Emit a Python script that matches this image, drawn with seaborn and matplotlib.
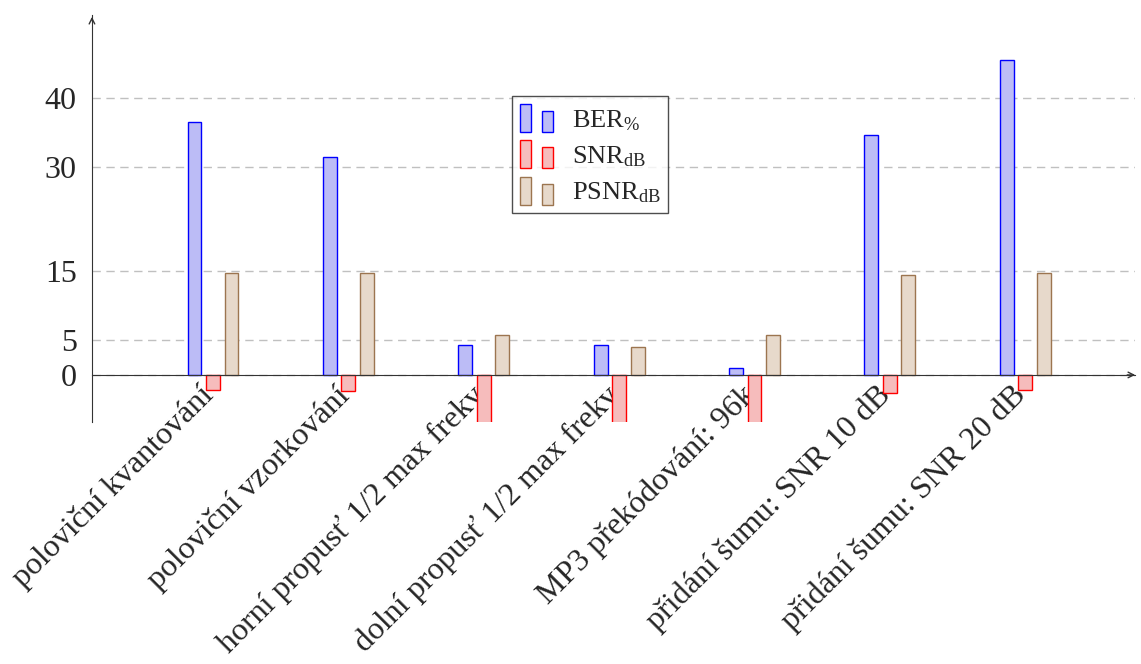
import matplotlib
matplotlib.use("Agg")
import matplotlib.pyplot as plt
import matplotlib.transforms as mtrans
import pandas as pd
import seaborn as sns
from matplotlib.legend_handler import HandlerBase
from matplotlib.patches import Rectangle

# data
attacks = [
    "poloviční kvantování",
    "poloviční vzorkování",
    "horní propusť 1/2 max frekv",
    "dolní propusť 1/2 max frekv",
    "MP3 překódování: 96k",
    "přidání šumu: SNR 10 dB",
    "přidání šumu: SNR 20 dB",
]
ber = [36.5, 31.5, 4.3, 4.4, 1.0, 34.7, 45.5]
snr = [-2.2, -2.3, -8.0, -8.0, -8.0, -2.6, -2.2]
psnr = [14.7, 14.7, 5.8, 4.0, 5.8, 14.4, 14.7]
metrics = ["BER", "SNR", "PSNR"]
legend_labels = [r"BER$_{\%}$", r"SNR$_{\mathrm{dB}}$", r"PSNR$_{\mathrm{dB}}$"]
yticks = [0, 5, 15, 30, 40]

fills = ["#b3b3ff", "#ffb3b3", "#ecd9c6"]
edges = ["#0000ff", "#ff0000", "#9c7550"]

df = pd.DataFrame({
    "attack": attacks * 3,
    "metric": ["BER"] * 7 + ["SNR"] * 7 + ["PSNR"] * 7,
    "value": ber + snr + psnr,
})


class TwoBars(HandlerBase):
    # pgfplots style legend image: two small bars, second one shorter
    def create_artists(self, legend, orig, xd, yd, width, height, fontsize, trans):
        w = width * 0.3
        r1 = Rectangle((xd * -1, -yd), w, height)
        r2 = Rectangle((-xd + width * 0.62, -yd), w, height * 0.75)
        out = []
        for r in (r1, r2):
            r.set_facecolor(orig.get_facecolor())
            r.set_edgecolor(orig.get_edgecolor())
            r.set_linewidth(1.0)
            r.set_transform(trans)
            out.append(r)
        return out


sns.set_style("white")
plt.rcParams["font.family"] = ["Liberation Serif", "DejaVu Serif"]
plt.rcParams["mathtext.fontset"] = "custom"
plt.rcParams["mathtext.rm"] = "Liberation Serif"
plt.rcParams["mathtext.it"] = "Liberation Serif:italic"

fig = plt.figure(figsize=(11.41, 6.64), dpi=100)
ax = fig.add_axes([0.0806, 0.3645, 0.914, 0.6125])

sns.barplot(data=df, x="attack", y="value", hue="metric", hue_order=metrics,
            palette=fills, width=0.41, gap=0.25, errorbar=None,
            linewidth=1.0, ax=ax, zorder=3)

for cont, ec in zip(ax.containers, edges):
    for p in cont:
        p.set_edgecolor(ec)
        p.set_linewidth(1.0)

ax.set_xlim(-0.894, 6.81)
ax.set_ylim(-6.8, 52)
ax.set_xlabel("")
ax.set_ylabel("")

# grid
ax.set_yticks(yticks)
ax.yaxis.grid(True, color="#c0c0c0", linestyle=(0, (6, 4)), linewidth=1.0, zorder=0)
ax.xaxis.grid(False)

# axis lines in the middle
for s in ["top", "right"]:
    ax.spines[s].set_visible(False)
ax.spines["bottom"].set_position(("data", 0))
ax.spines["bottom"].set_color("#333333")
ax.spines["left"].set_color("#333333")
ax.spines["bottom"].set_zorder(4)
ax.annotate("", xy=(1.003, 0), xytext=(0.99, 0),
            xycoords=("axes fraction", "data"),
            arrowprops=dict(arrowstyle="->", color="#333333", lw=1.0))
ax.annotate("", xy=(0, 1.003), xytext=(0, 0.98),
            xycoords="axes fraction",
            arrowprops=dict(arrowstyle="->", color="#333333", lw=1.0))

ax.tick_params(axis="y", direction="out", length=6, color="#999999",
               labelsize=23, pad=5)
ax.tick_params(axis="x", length=0, labelsize=23, pad=4)
ax.set_xticks(range(len(attacks)))
ax.set_xticklabels(attacks, rotation=45, ha="right", va="top",
                   rotation_mode="anchor")
shift = mtrans.ScaledTranslation(-14 / 100, 0, fig.dpi_scale_trans)
for lab in ax.get_xticklabels():
    lab.set_transform(lab.get_transform() + shift)

# legend with paired bars like pgfplots
if ax.get_legend() is not None:
    ax.get_legend().remove()
handles = [c[0] for c in ax.containers]
leg = ax.legend(handles, legend_labels,
                handler_map={Rectangle: TwoBars()},
                loc="upper left", bbox_to_anchor=(0.403, 0.801),
                borderaxespad=0, fontsize=19, handlelength=1.35,
                handleheight=1.25, frameon=True, fancybox=False,
                edgecolor="#222222", borderpad=0.3, labelspacing=0.3,
                handletextpad=0.6)
leg.get_frame().set_linewidth(1.0)
leg.set_zorder(5)

fig.savefig("out.png", dpi=100)
